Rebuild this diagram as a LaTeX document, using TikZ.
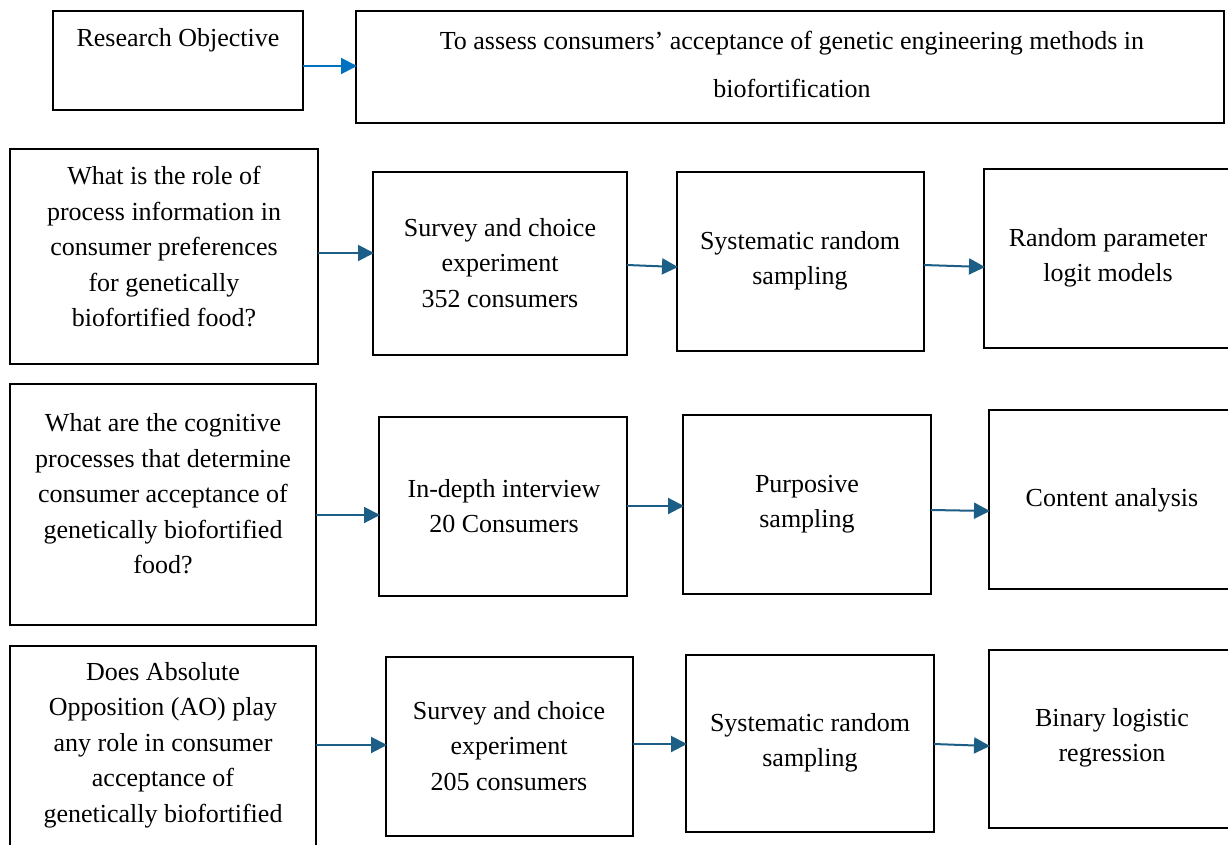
\documentclass[tikz,border=0pt]{standalone}
\usepackage{fontspec}
\setmainfont{Liberation Serif}
\usetikzlibrary{arrows.meta}
\definecolor{arrA}{RGB}{0,112,192}
\definecolor{arrB}{RGB}{28,94,134}
\begin{document}
\begin{tikzpicture}[x=1pt,y=-1pt,
  box/.style={draw=black,line width=2pt,inner sep=0pt,outer sep=0pt},
  txt/.style={align=center,font=\fontsize{26}{35.5}\selectfont,inner sep=0pt},
  arr/.style={draw=arrB,line width=2pt,-{Triangle[length=16pt,width=16pt]},shorten >=-1pt},
  arr0/.style={draw=arrA,line width=2pt,-{Triangle[length=16pt,width=16pt]},shorten >=-1pt}]
\useasboundingbox (0,0) rectangle (1228,845);
% boxes: helper via corner coordinates
\newcommand{\bx}[5]{\node[box,minimum width=#4-#2,minimum height=#5-#3] (#1) at ({(#2+#4)/2},{(#3+#5)/2}) {};}
\bx{ro}{53}{11}{303}{110}
\bx{obj}{356}{11}{1224}{123}
\bx{q1}{10}{149}{318}{364}
\bx{a1}{373}{172}{627}{355}
\bx{b1}{677}{172}{924}{351}
\bx{c1}{984}{169}{1240}{348}
\bx{q2}{10}{384}{316}{625}
\bx{a2}{379}{417}{627}{596}
\bx{b2}{683}{415}{931}{594}
\bx{c2}{989}{410}{1240}{589}
\bx{q3}{10}{646}{316}{870}
\bx{a3}{386}{657}{633}{836}
\bx{b3}{686}{655}{934}{832}
\bx{c3}{989}{650}{1240}{828}
% texts
\node[txt] (tro) at (178,40) {Research Objective};
\node[txt] (tobj) at (792,64) {To assess consumers’ acceptance of genetic engineering methods in\\[12.5pt]biofortification};
\node[txt] (tq1) at (164,247) {What is the role of\\process information in\\consumer preferences\\for genetically\\biofortified food?};
\node[txt] (ta1) at (500,263) {Survey and choice\\experiment\\352 consumers};
\node[txt] (tb1) at (800,261) {Systematic random\\sampling};
\node[txt] (tc1) at (1108,258) {Random parameter\\logit models};
\node[txt] (tq2) at (163,494) {What are the cognitive\\processes that determine\\consumer acceptance of\\genetically biofortified\\food?};
\node[txt] (ta2) at (504,506) {In-depth interview\\20 Consumers};
\node[txt] (tb2) at (807,504) {Purposive\\sampling};
\node[txt] (tc2) at (1112,500) {Content analysis};
\node[txt] (tq3) at (163,745) {Does Absolute\\Opposition (AO) play\\any role in consumer\\acceptance of\\genetically biofortified};
\node[txt] (ta3) at (509,746) {Survey and choice\\experiment\\205 consumers};
\node[txt] (tb3) at (810,743) {Systematic random\\sampling};
\node[txt] (tc3) at (1112,738) {Binary logistic\\regression};
% arrows
\draw[arr0] (ro.east |- 0,66) -- (obj.west |- 0,66);
\draw[arr] (q1.east |- 0,253) -- (a1.west |- 0,253);
\draw[arr] (a1.east |- 0,265) -- (b1.west |- 0,267);
\draw[arr] (b1.east |- 0,265) -- (c1.west |- 0,267);
\draw[arr] (q2.east |- 0,515) -- (a2.west |- 0,515);
\draw[arr] (a2.east |- 0,506) -- (b2.west |- 0,506);
\draw[arr] (b2.east |- 0,510) -- (c2.west |- 0,511);
\draw[arr] (q3.east |- 0,745) -- (a3.west |- 0,745);
\draw[arr] (a3.east |- 0,744) -- (b3.west |- 0,744);
\draw[arr] (b3.east |- 0,744) -- (c3.west |- 0,746);
\end{tikzpicture}
\end{document}
